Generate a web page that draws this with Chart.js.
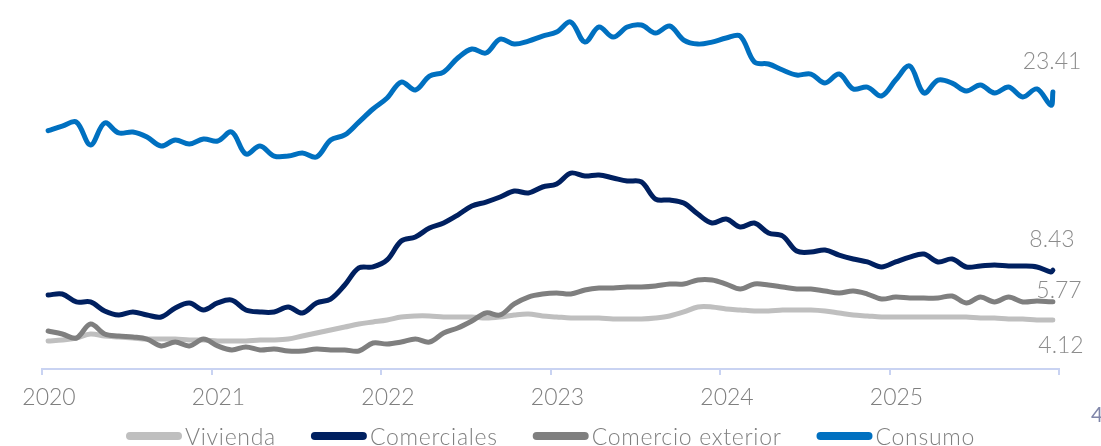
<!DOCTYPE html>
<html><head><meta charset="utf-8">
<script src="https://cdn.jsdelivr.net/npm/chart.js@4.4.1/dist/chart.umd.min.js"></script>
<style>html,body{margin:0;padding:0;background:#fff;overflow:hidden}#wrap{position:relative;width:1101px;height:446px}</style>
</head><body><div id="wrap"><canvas id="c" width="1101" height="446"></canvas></div>
<script>
// Periods (monthly observations, plus the final partial reading)
const periods = [
 '2020-01-13','2020-02-13','2020-03-13','2020-04-13','2020-05-13','2020-06-13','2020-07-13','2020-08-13','2020-09-13','2020-10-13','2020-11-13','2020-12-13',
 '2021-01-13','2021-02-13','2021-03-13','2021-04-13','2021-05-13','2021-06-13','2021-07-13','2021-08-13','2021-09-13','2021-10-13','2021-11-13','2021-12-13',
 '2022-01-13','2022-02-13','2022-03-13','2022-04-13','2022-05-13','2022-06-13','2022-07-13','2022-08-13','2022-09-13','2022-10-13','2022-11-13','2022-12-13',
 '2023-01-13','2023-02-13','2023-03-13','2023-04-13','2023-05-13','2023-06-13','2023-07-13','2023-08-13','2023-09-13','2023-10-13','2023-11-13','2023-12-13',
 '2024-01-13','2024-02-13','2024-03-13','2024-04-13','2024-05-13','2024-06-13','2024-07-13','2024-08-13','2024-09-13','2024-10-13','2024-11-13','2024-12-13',
 '2025-01-13','2025-02-13','2025-03-13','2025-04-13','2025-05-13','2025-06-13','2025-07-13','2025-08-13','2025-09-13','2025-10-13','2025-11-13','2025-12-13',
 '2025-12-17'
];
const yearLabels = ['2020','2021','2022','2023','2024','2025',''];

const vivienda = [
 2.24,2.33,2.51,2.87,2.69,2.60,2.51,2.42,2.42,2.42,2.33,2.33,
 2.24,2.24,2.24,2.33,2.33,2.42,2.69,2.96,3.23,3.50,3.77,3.95,
 4.13,4.40,4.49,4.49,4.40,4.40,4.40,4.31,4.40,4.58,4.67,4.49,
 4.40,4.31,4.31,4.31,4.22,4.22,4.22,4.31,4.49,4.85,5.30,5.30,
 5.12,5.03,4.94,4.94,5.03,5.03,5.03,4.94,4.76,4.58,4.49,4.40,
 4.40,4.40,4.40,4.40,4.40,4.40,4.31,4.31,4.22,4.22,4.13,4.12,
 4.12];
const comerciales = [
 6.37,6.46,5.75,5.75,4.94,4.58,4.85,4.58,4.40,5.21,5.66,5.03,
 5.66,5.92,5.03,4.85,4.85,5.30,4.76,5.66,6.01,7.27,8.80,8.89,
 9.52,11.22,11.58,12.39,12.84,13.55,14.36,14.72,15.17,15.71,15.53,16.07,
 16.34,17.32,17.06,17.15,16.88,16.61,16.52,14.99,14.90,14.63,13.64,12.84,
 13.20,12.48,12.84,11.94,11.67,10.32,10.23,10.41,9.96,9.61,9.34,8.89,
 9.34,9.78,10.05,9.34,9.61,8.89,8.98,9.07,8.98,8.98,8.89,8.43,
 8.60];
const comercioExterior = [
 3.14,2.87,2.51,3.77,2.87,2.69,2.60,2.42,1.80,2.15,1.80,2.42,
 1.80,1.44,1.71,1.44,1.53,1.35,1.35,1.53,1.44,1.44,1.35,2.06,
 1.97,2.15,2.42,2.15,2.96,3.41,4.04,4.76,4.58,5.57,6.19,6.46,
 6.55,6.46,6.82,7.00,7.00,7.09,7.09,7.18,7.36,7.36,7.72,7.72,
 7.36,6.91,7.36,7.27,7.09,6.91,6.91,6.73,6.55,6.73,6.46,6.01,
 6.19,6.10,6.10,6.10,6.28,5.66,6.19,5.75,6.19,5.75,5.83,5.77,
 5.77];
const consumo = [
 21.12,21.54,21.90,19.84,21.81,20.92,21.01,20.56,19.75,20.29,19.93,20.38,
 20.20,21.01,19.03,19.75,18.85,18.85,19.12,18.76,20.29,20.74,21.90,23.07,
 24.06,25.49,24.78,26.03,26.39,27.65,28.46,28.10,29.35,28.90,29.17,29.62,
 29.98,30.88,29.08,30.43,29.53,30.43,30.61,29.89,30.52,29.26,28.90,29.08,
 29.44,29.62,27.29,27.11,26.57,26.12,26.21,25.40,26.21,24.87,25.04,24.24,
 25.67,26.93,24.51,25.67,25.40,24.69,25.22,24.51,25.04,24.15,24.87,23.41,
 24.60];

const seriesNames = ['Vivienda','Comerciales','Comercio exterior','Consumo'];
const seriesColors = ['#bfbfbf','#002060','#7f7f7f','#0070c0'];
const lastLabelIndex = 71;
// label placement relative to the last monthly point: [dx, dy(baseline)]
const labelPlacement = [[10,33],[1,-25],[8,-4],[1,-36]];

const FONT = 'Lato';
const toMonthPos = s => { const [y,m,d] = s.split('-').map(Number); return (y-2020)*12 + (m-1) + d/30; };
const xs = periods.map(toMonthPos);
const mk = arr => arr.map((v,i) => ({x: xs[i], y: v}));

const allSeries = [vivienda, comerciales, comercioExterior, consumo];
const drawOrder = [4,2,1,3];

const extras = {
  id: 'extras',
  afterDraw(chart) {
    const ctx = chart.ctx;
    ctx.save();
    // end-value labels
    ctx.font = `300 23px ${FONT}`;
    ctx.fillStyle = '#8c8c8c';
    ctx.textAlign = 'center';
    ctx.textBaseline = 'alphabetic';
    allSeries.forEach((arr, i) => {
      const pt = chart.getDatasetMeta(i).data[lastLabelIndex];
      const [dx, dy] = labelPlacement[i];
      ctx.fillText(arr[lastLabelIndex].toFixed(2), pt.x + dx, pt.y + dy);
    });
    // legend
    ctx.font = `300 23px ${FONT}`;
    if ('letterSpacing' in ctx) ctx.letterSpacing = '0.7px';
    const markLen = 56, textGap = 3, itemGap = 35;
    const widths = seriesNames.map(n => markLen + textGap + ctx.measureText(n).width);
    const total = widths.reduce((a,b)=>a+b,0) + itemGap*(seriesNames.length-1);
    let x = (chart.width - total)/2;
    const ly = 436;
    seriesNames.forEach((n, i) => {
      ctx.strokeStyle = seriesColors[i];
      ctx.lineWidth = 8;
      ctx.lineCap = 'round';
      ctx.beginPath();
      ctx.moveTo(x + 4, ly);
      ctx.lineTo(x + markLen - 4, ly);
      ctx.stroke();
      ctx.fillStyle = '#7f7f7f';
      ctx.textAlign = 'left';
      ctx.fillText(n, x + markLen + textGap, 445);
      x += widths[i] + itemGap;
    });
    if ('letterSpacing' in ctx) ctx.letterSpacing = '0px';
    // page number
    ctx.font = `400 21px ${FONT}`;
    ctx.fillStyle = '#8086a9';
    ctx.fillText('4', 1091, 422);
    ctx.restore();
  }
};

function build() {
  new Chart(document.getElementById('c'), {
    type: 'line',
    data: {
      datasets: allSeries.map((arr, i) => ({
        label: seriesNames[i],
        data: mk(arr),
        borderColor: seriesColors[i],
        backgroundColor: seriesColors[i],
        borderWidth: 5,
        borderCapStyle: 'round',
        borderJoinStyle: 'round',
        pointRadius: 0,
        tension: 0.35,
        fill: false,
        order: drawOrder[i]
      }))
    },
    options: {
      responsive: false,
      animation: false,
      devicePixelRatio: 1,
      layout: { padding: { left: 42, right: 42, top: 10, bottom: 0 } },
      plugins: { legend: { display: false }, tooltip: { enabled: false } },
      scales: {
        x: {
          type: 'linear', min: 0, max: 72,
          afterFit: a => { a.height = 77; },
          border: { display: true, color: '#c9d3f2', width: 2 },
          grid: { display: true, drawOnChartArea: false, drawTicks: true, tickLength: 6, color: '#c9d3f2', lineWidth: 2 },
          ticks: {
            stepSize: 12, autoSkip: false, maxRotation: 0,
            labelOffset: 7, padding: 9,
            color: '#7f7f7f',
            font: { family: FONT, size: 23, weight: 300 },
            callback: (v, i) => yearLabels[i]
          }
        },
        y: { display: false, min: -0.27, max: 31.96 }
      }
    },
    plugins: [extras]
  });
}
if (document.fonts && document.fonts.load) {
  Promise.all([document.fonts.load(`300 23px ${FONT}`), document.fonts.load(`400 21px ${FONT}`)]).then(build, build);
} else build();
</script></body></html>
